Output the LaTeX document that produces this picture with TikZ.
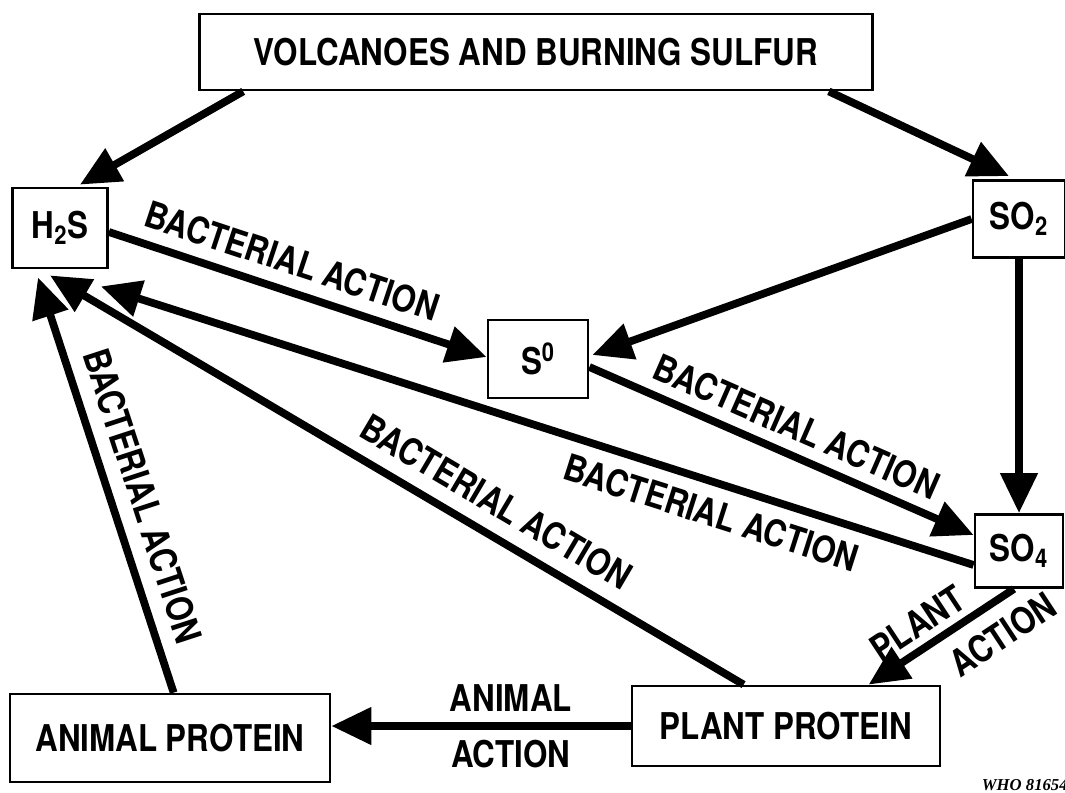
\documentclass[tikz,border=0pt]{standalone}
\usepackage{fontspec}
\setmainfont{TeX Gyre Heros}[FakeStretch=0.85]
\newfontfamily\codefont{Liberation Serif}
\usetikzlibrary{arrows.meta,calc}

\begin{document}
\begin{tikzpicture}[x=0.02cm,y=-0.02cm,
    box/.style={draw,line width=1.6pt,inner sep=0pt,
                font=\fontsize{21}{24}\selectfont\bfseries},
    flow/.style={line width=4.4pt,
                 -{Triangle[length=0.8cm,width=0.72cm]}},
    lbl/.style={font=\fontsize{21}{24}\selectfont\bfseries,inner sep=2pt}]
  \useasboundingbox (0,0) rectangle (1065,792);

  % Top: source
  \node[box,minimum width=13.46cm,minimum height=1.52cm]
        (volc) at (536,52) {VOLCANOES AND BURNING SULFUR};

  % Sulfur compounds
  \node[box,minimum width=1.9cm,minimum height=1.6cm]
        (hs) at (60,228) {H\textsubscript{2}S};
  \node[box,minimum width=1.84cm,minimum height=1.54cm]
        (so2) at (1019,219) {SO\textsubscript{2}};
  \node[box,minimum width=2cm,minimum height=1.56cm]
        (s0) at (538,359) {S\textsuperscript{0}};
  \node[box,minimum width=1.76cm,minimum height=1.46cm]
        (so4) at (1019,551) {SO\textsubscript{4}};

  % Bottom: proteins
  \node[box,minimum width=6.4cm,minimum height=1.76cm]
        (ap) at (170,738) {ANIMAL PROTEIN};
  \node[box,minimum width=6.16cm,minimum height=1.6cm]
        (pp) at (786,726) {PLANT PROTEIN};

  % Arrows from the source
  \draw[flow] ($(volc.south west)+(45,0)$) -- ($(hs.north)+(20,-2)$);
  \draw[flow] ($(volc.south east)+(-45,0)$) -- ($(so2.north)+(-10,-3)$);

  % Upper cycle
  \draw[flow] ($(hs.east)+(0,4)$) -- node[lbl,pos=0.46,sloped,above=5pt]
        {BACTERIAL ACTION} ($(s0.west)+(0,-2)$);
  \draw[flow] (so2.west) -- ($(s0.east)+(3,-4)$);
  \draw[flow] (so2.south) -- (so4.north);
  \draw[flow] ($(s0.east)+(0,8)$) -- node[lbl,pos=0.51,sloped,above=4pt]
        {BACTERIAL ACTION} ($(so4.west)+(0,-16)$);

  % Back to H2S
  \draw[flow] ($(so4.west)+(0,14)$) -- node[lbl,pos=0.29,sloped,below=5pt]
        {BACTERIAL ACTION} ($(hs.south east)+(-8,17)$);
  \draw[flow] ($(pp.north west)+(113,0)$) -- node[lbl,pos=0.38,sloped,above=6pt]
        {BACTERIAL ACTION} ($(hs.south)+(-10,6)$);
  \draw[flow] ($(ap.north west)+(165,0)$) -- node[lbl,pos=0.45,sloped,above=6pt]
        {BACTERIAL ACTION} ($(hs.south)+(-22,8)$);

  % Proteins
  \draw[flow] ($(so4.south)+(-5,0)$) --
        node[lbl,pos=0.57,sloped,above=2pt] {PLANT}
        node[lbl,pos=0.2,sloped,below=6pt] {ACTION}
        ($(pp.north west)+(238,0)$);
  \draw[flow] (pp.west) --
        node[lbl,pos=0.4,above=4pt] {ANIMAL}
        node[lbl,pos=0.4,below=4pt] {ACTION} ($(ap.east)+(0,-12)$);

  % Figure code
  \node[anchor=east,inner sep=0pt,font=\codefont\fontsize{9.5}{11}\selectfont\bfseries\itshape]
        (code) at (1068,785) {WHO 81654};
\end{tikzpicture}
\end{document}
